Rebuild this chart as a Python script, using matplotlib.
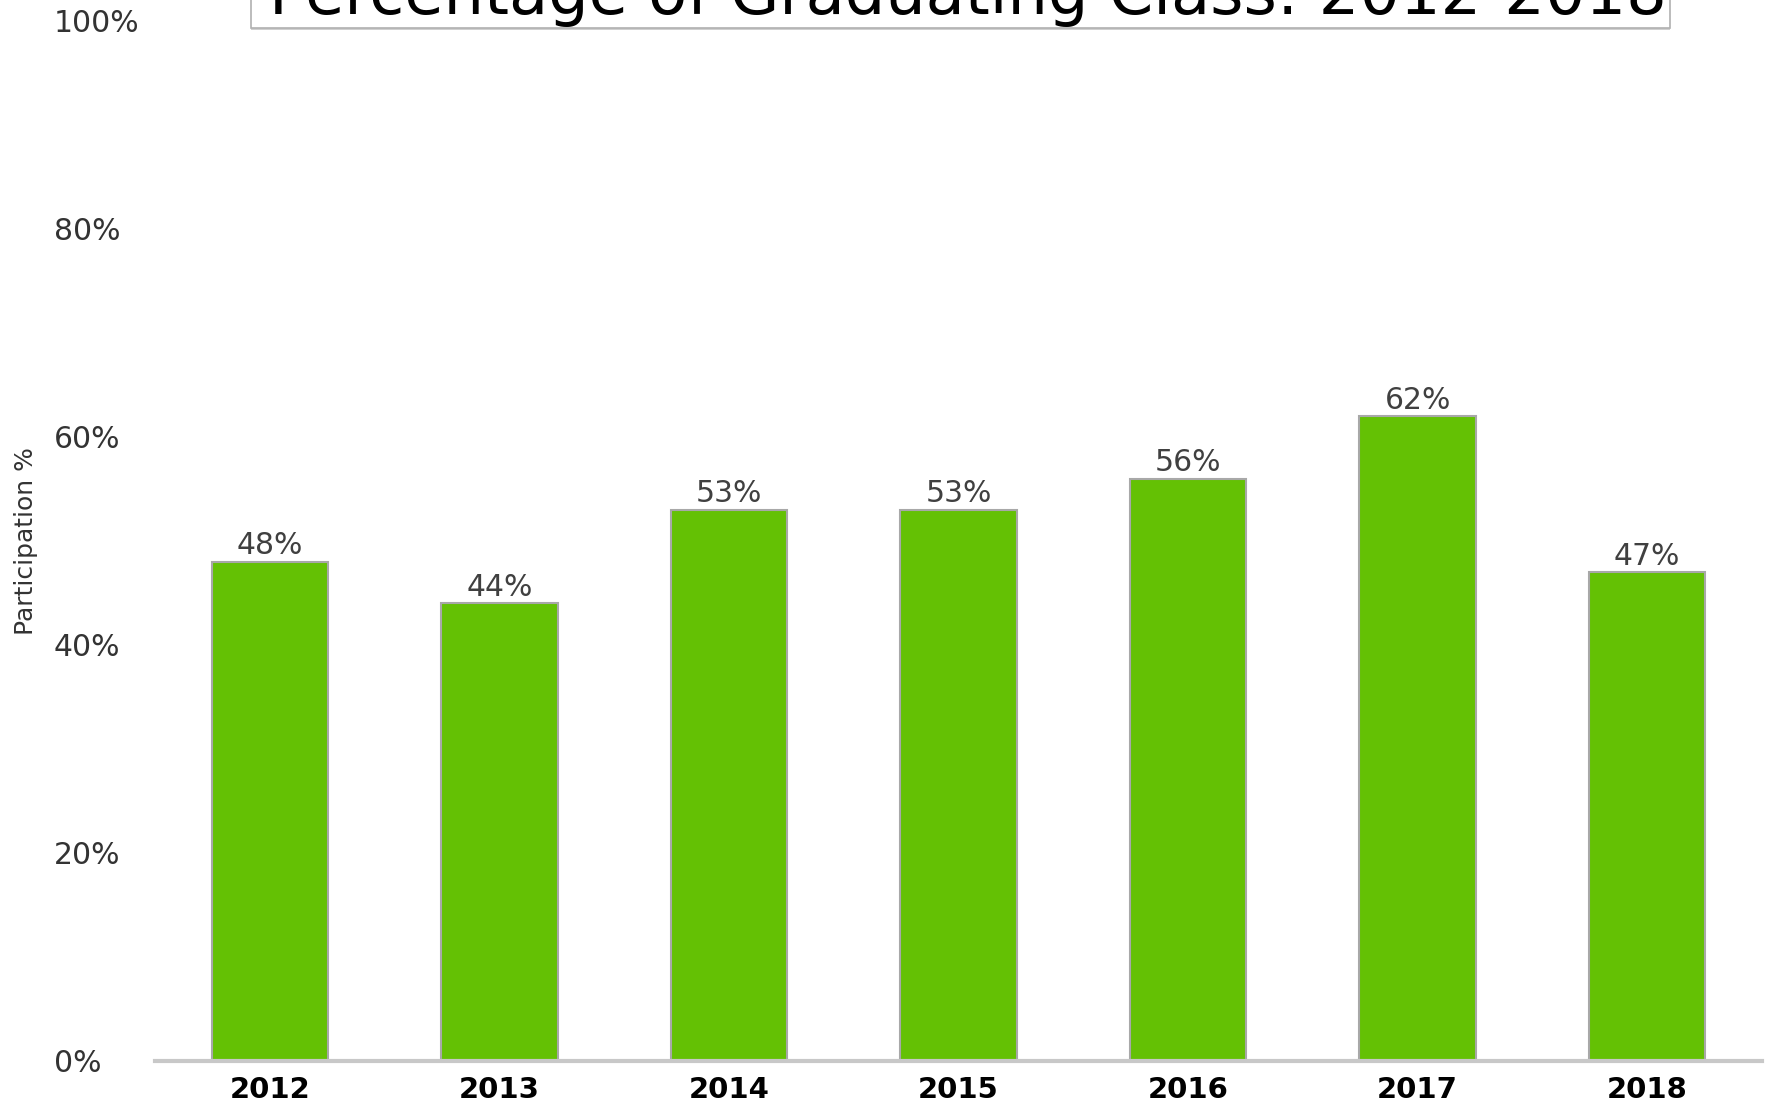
import matplotlib.pyplot as plt
from matplotlib.patches import Rectangle
import numpy as np

# Participation by graduating class
years = ['2012', '2013', '2014', '2015', '2016', '2017', '2018']
participation = [48, 44, 53, 53, 56, 62, 47]
y_ticks = [0, 20, 40, 60, 80, 100]
y_tick_labels = ['0%', '20%', '40%', '60%', '80%', '100%']

W, H = 1771, 1107
fig = plt.figure(figsize=(W / 100, H / 100), dpi=100)
ax = fig.add_axes([155 / W, 46 / H, 1607 / W, 1040 / H])

x = np.arange(len(years))
bars = ax.bar(x, participation, width=0.507, color='#64C104', edgecolor='#A8A8A8', linewidth=1.5, zorder=3)

ax.set_xlim(-0.5, len(years) - 0.5)
ax.set_ylim(0, 100)

# value labels above bars
for bar, v in zip(bars, participation):
    ax.annotate(f'{v}%', (bar.get_x() + bar.get_width() / 2, bar.get_height()),
                xytext=(0, 1), textcoords='offset points', ha='center', va='bottom',
                fontsize=21.5, color='#404040')

for side in ['top', 'right', 'left']:
    ax.spines[side].set_visible(False)
ax.spines['bottom'].set_color('#C8C8C8')
ax.spines['bottom'].set_linewidth(3)
ax.spines['bottom'].set_zorder(4)

ax.set_xticks(x)
ax.set_xticklabels(years, fontsize=21, fontweight='bold', color='black')
ax.tick_params(axis='x', length=0, pad=11)

ax.set_yticks(y_ticks)
ax.set_yticklabels(y_tick_labels, fontsize=21.5, color='#333333')
ax.tick_params(axis='y', length=0, pad=73)
for lbl in ax.get_yticklabels():
    lbl.set_horizontalalignment('left')

ax.set_ylabel('Participation %', fontsize=18, color='#333333')
ax.yaxis.set_label_coords(-0.073, 0.5)

# title box, cut off at top of the image
fig.patches.append(Rectangle((251 / W, (H - 30) / H), 1419 / W, 60 / H,
                             transform=fig.transFigure, facecolor='#D0D0D0', edgecolor='none', zorder=0))
fig.patches.append(Rectangle((251 / W, (H - 28) / H), 1419 / W, 60 / H,
                             transform=fig.transFigure, facecolor='white', edgecolor='#B0B0B0', linewidth=1.2, zorder=1))
fig.text(0.5 * (265 + 1670) / W, (H - 14) / H, 'Percentage of Graduating Class: 2012-2018',
         ha='center', va='baseline', fontsize=46, color='black', zorder=2)

fig.savefig('out.png', dpi=100)
